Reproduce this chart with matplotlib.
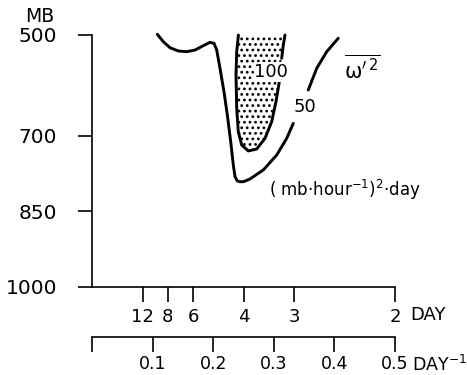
import matplotlib
matplotlib.use("Agg")
import matplotlib.pyplot as plt

# y axis: pressure levels (mb)
p_ticks = [500, 700, 850, 1000]
# upper x axis: period in days, placed at frequency 1/period
period_ticks = [12, 8, 6, 4, 3, 2]
# lower x axis: frequency (day^-1)
freq_ticks = [0.0, 0.1, 0.2, 0.3, 0.4, 0.5]
freq_labels = ["", "0.1", "0.2", "0.3", "0.4", "0.5"]

# 50 contour of omega'^2 spectrum, (freq, pressure); broken where the label sits
c50_a_f = [0.1078, 0.1177, 0.1287, 0.1424, 0.1563, 0.1700, 0.1837, 0.1947, 0.2013,
           0.2058, 0.2112, 0.2178, 0.2233, 0.2289, 0.2332, 0.2360, 0.2398, 0.2442,
           0.2497, 0.2607, 0.2827, 0.3048, 0.3213, 0.3322]
c50_a_p = [498.6, 513.3, 525.2, 531.7, 533.1, 529.8, 521.2, 514.5, 516.5,
           529.8, 566.1, 612.5, 658.7, 711.7, 757.9, 781.1, 789.7, 791.1,
           791.1, 785.7, 767.8, 738.1, 705.0, 675.2]
c50_b_f = [0.3569, 0.3708, 0.3873, 0.4064]
c50_b_p = [609.1, 566.1, 533.1, 506.5]

# 100 contour (shaded inside), broken at its label
c100_a_f = [0.2416, 0.2388, 0.2376, 0.2388, 0.2414, 0.2470, 0.2579, 0.2718,
            0.2855, 0.2965, 0.3036, 0.3091]
c100_a_p = [500, 533.1, 579.4, 645.4, 691.9, 718.2, 730.1, 726.2,
            705.0, 672.0, 632.3, 592.7]
c100_b_f = [0.3130, 0.3157, 0.3185]
c100_b_p = [546.2, 519.8, 500]

W, H = 467, 375
fig = plt.figure(figsize=(W / 100, H / 100), dpi=100)
x0, x1, ytop, ybot = 92, 395, 35, 287
ax = fig.add_axes([x0 / W, 1 - ybot / H, (x1 - x0) / W, (ybot - ytop) / H])
ax.set_xlim(0, 0.5)
ax.set_ylim(1000, 500)
for s in ["top", "right"]:
    ax.spines[s].set_visible(False)
for s in ["left", "bottom"]:
    ax.spines[s].set_linewidth(1.2)

font = "DejaVu Sans"
ax.set_yticks(p_ticks)
ax.set_yticklabels([str(p) for p in p_ticks], fontsize=14.5, family=font)
ax.tick_params(axis="y", direction="out", length=10, width=1.2, pad=15)

ax.set_xticks([1 / d for d in period_ticks])
ax.set_xticklabels([str(d) for d in period_ticks], fontsize=13, family=font)
ax.tick_params(axis="x", direction="out", length=11, width=1.2, pad=4)

sec = ax.secondary_xaxis(-50 / (ybot - ytop))
sec.set_xticks(freq_ticks)
sec.set_xticklabels(freq_labels, fontsize=12.5, family=font)
sec.tick_params(axis="x", direction="out", length=11, width=1.2, pad=2)
sec.spines["bottom"].set_linewidth(1.2)

# stippled area inside the 100 contour
plt.rcParams["hatch.linewidth"] = 1.2
ax.fill(c100_a_f + c100_b_f, c100_a_p + c100_b_p, facecolor="white",
        edgecolor="black", hatch="...", linewidth=0, clip_on=False)

lw = 2.1
for f, p in [(c50_a_f, c50_a_p), (c50_b_f, c50_b_p),
             (c100_a_f, c100_a_p), (c100_b_f, c100_b_p)]:
    ax.plot(f, p, color="black", lw=lw, clip_on=False,
            solid_capstyle="round", solid_joinstyle="round")

ax.text(0.296, 573, "100", fontsize=13, family=font, ha="center", va="center",
        bbox=dict(facecolor="white", edgecolor="none", pad=0.5))
ax.text(0.351, 643, "50", fontsize=13, family=font, ha="center", va="center")
ax.text(0.447, 568, r"$\overline{\mathrm{\omega}'^{\,2}}$", fontsize=15,
        ha="center", va="center")
ax.text(0.417, 808, "( mb·hour$^{-1}$)$^{2}$·day", fontsize=12, family=font,
        ha="center", va="center")

fig.text(40 / W, 1 - 17 / H, "MB", fontsize=13.5, family=font, ha="center", va="center")
fig.text(410 / W, 1 - 315 / H, "DAY", fontsize=13, family=font, ha="left", va="center")
fig.text(412 / W, 1 - 365 / H, "DAY$^{-1}$", fontsize=12.5, family=font,
         ha="left", va="center")

fig.savefig("out.png", dpi=100)
